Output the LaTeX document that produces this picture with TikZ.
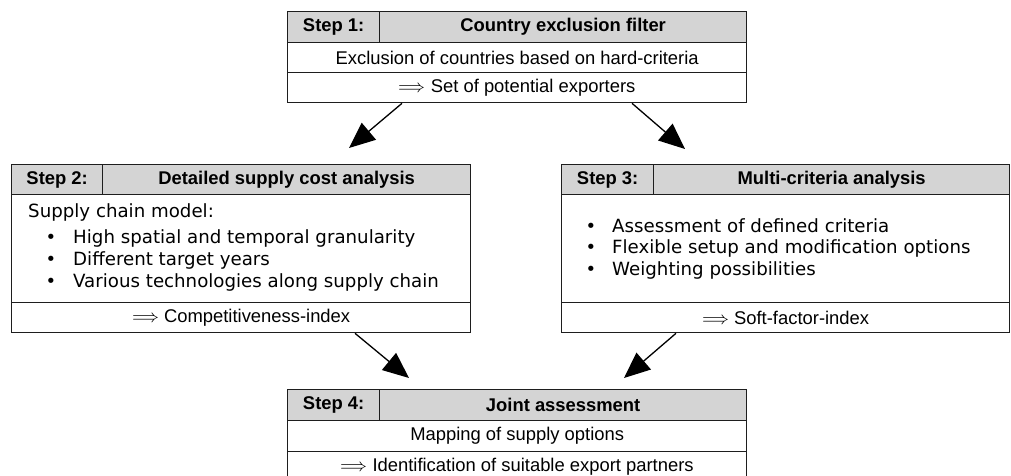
\documentclass[tikz,border=0pt]{standalone}
\usepackage{fontspec}
\setmainfont{Liberation Sans}
\newfontfamily\verd{DejaVu Sans}
\newfontfamily\lmmath{Latin Modern Math}
\usetikzlibrary{arrows.meta,calc}
\definecolor{hdrgray}{RGB}{212,212,212}
\definecolor{edgec}{RGB}{30,30,30}
\newcommand{\impl}{{\lmmath ⟹}}
\begin{document}
\begin{tikzpicture}[x=1pt,y=-1pt,
  cell/.style={draw=edgec, line width=1.3pt, inner sep=0pt, anchor=north west, font=\fontsize{18.4}{22}\selectfont},
  hcell/.style={cell, fill=hdrgray, font=\fontsize{18.4}{22}\selectfont\bfseries},
  bodytext/.style={inner sep=0pt, anchor=base west, font=\verd\fontsize{18.2}{22}\selectfont},
  bul/.style={inner sep=0pt, anchor=base, font=\verd\fontsize{18}{20}\selectfont},
  link/.style={draw=black, line width=1.3pt, -{Triangle[length=26pt,width=22pt]}}]
\clip (0,0) rectangle (1011,476);
\fill[white] (0,0) rectangle (1011,476);
% Step 1
\node[hcell, minimum width=92pt, minimum height=31pt] (s1a) at (287,11) {Step 1:};
\node[hcell, minimum width=367pt, minimum height=31pt] (s1b) at (379,11) {Country exclusion filter};
\node[cell, minimum width=459pt, minimum height=30pt] (s1c) at (287,42) {Exclusion of countries based on hard-criteria};
\node[cell, minimum width=459pt, minimum height=30pt] (s1d) at (287,72) {\impl\ Set of potential exporters};
% Step 2
\node[hcell, minimum width=91pt, minimum height=30pt] (s2a) at (11,164) {Step 2:};
\node[hcell, minimum width=368pt, minimum height=30pt] (s2b) at (102,164) {Detailed supply cost analysis};
\node[cell, minimum width=459pt, minimum height=108pt] (s2c) at (11,194) {};
\node[cell, minimum width=459pt, minimum height=30pt] (s2d) at (11,302) {\impl\ Competitiveness-index};
\node[bodytext] (s2t0) at (28,217) {Supply chain model:};
\node[bul] (s2b1) at (51,243) {•};
\node[bodytext] (s2t1) at (73,243) {High spatial and temporal granularity};
\node[bul] (s2b2) at (51,265) {•};
\node[bodytext] (s2t2) at (73,265) {Different target years};
\node[bul] (s2b3) at (51,287) {•};
\node[bodytext] (s2t3) at (73,287) {Various technologies along supply chain};
% Step 3
\node[hcell, minimum width=92pt, minimum height=30pt] (s3a) at (561,164) {Step 3:};
\node[hcell, minimum width=356pt, minimum height=30pt] (s3b) at (653,164) {Multi-criteria analysis};
\node[cell, minimum width=448pt, minimum height=108pt] (s3c) at (561,194) {};
\node[cell, minimum width=448pt, minimum height=30pt] (s3d) at (561,302) {\impl\ Soft-factor-index};
\node[bul] (s3b1) at (591,232) {•};
\node[bodytext] (s3t1) at (612,232) {Assessment of defined criteria};
\node[bul] (s3b2) at (591,253) {•};
\node[bodytext] (s3t2) at (612,253) {Flexible setup and modification options};
\node[bul] (s3b3) at (591,275) {•};
\node[bodytext] (s3t3) at (612,275) {Weighting possibilities};
% Step 4
\node[hcell, minimum width=92pt, minimum height=31pt] (s4a) at (287,389) {Step 4:};
\node[hcell, minimum width=367pt, minimum height=31pt] (s4b) at (379,389) {Joint assessment};
\node[cell, minimum width=459pt, minimum height=31pt] (s4c) at (287,420) {Mapping of supply options};
\node[cell, minimum width=459pt, minimum height=30pt] (s4d) at (287,451) {\impl\ Identification of suitable export partners};
% arrow tips
\coordinate (t12) at (349,148);
\coordinate (t13) at (685,149);
\coordinate (t24) at (409,378);
\coordinate (t34) at (624,378);
\draw[link] ($(s1d.south west)+(115,0)$) -- (t12);
\draw[link] ($(s1d.south west)+(345,0)$) -- (t13);
\draw[link] ($(s2d.south west)+(344,0)$) -- (t24);
\draw[link] ($(s3d.south west)+(115,0)$) -- (t34);
\end{tikzpicture}
\end{document}
